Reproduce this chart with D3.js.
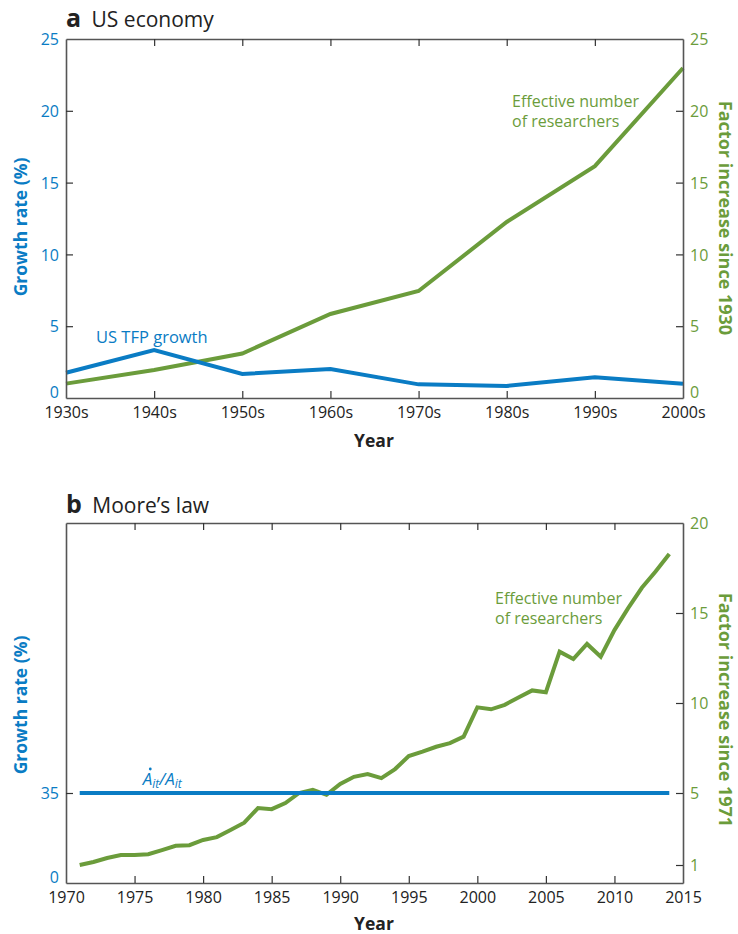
<!DOCTYPE html>
<html>
<head>
<meta charset="utf-8">
<script src="https://cdn.jsdelivr.net/npm/d3@7"></script>
<style>
  body { margin: 0; background: #fff; }
  svg text { font-family: "Open Sans", "Noto Sans", sans-serif; }
</style>
</head>
<body>
<script>
'use strict';

// panel a: US economy, by decade
var decades = ['1930s', '1940s', '1950s', '1960s', '1970s', '1980s', '1990s', '2000s'];
var tfpGrowth = [1.76, 3.34, 1.67, 2.02, 0.95, 0.84, 1.44, 1.0];
var researchersUS = [1.0, 1.95, 3.1, 5.85, 7.45, 12.26, 16.15, 22.98];
var ticksA = [0, 5, 10, 15, 20, 25];

// panel b: Moore's law, yearly 1971-2014
var years = d3.range(1971, 2015);
var researchersMoore = [1.0, 1.17, 1.39, 1.55, 1.55, 1.6, 1.83, 2.07, 2.1, 2.39,
  2.55, 2.94, 3.35, 4.16, 4.1, 4.44, 5.0, 5.17, 4.9, 5.5,
  5.9, 6.05, 5.83, 6.33, 7.05, 7.3, 7.57, 7.77, 8.13, 9.76,
  9.65, 9.9, 10.3, 10.7, 10.6, 12.85, 12.44, 13.28, 12.57, 14.05,
  15.27, 16.4, 17.3, 18.28];
var mooreGrowth = 35; // constant growth of Ait, %
var yearTicks = [1970, 1975, 1980, 1985, 1990, 1995, 2000, 2005, 2010, 2015];
var ticksBLeft = [0, 35];
var ticksBRight = [1, 5, 10, 15, 20];

var blue = '#0a7cc4', green = '#6b9c3b', axisCol = '#555';

var svg = d3.select('body').append('svg')
    .attr('width', 738)
    .attr('height', 934);

var left = 66, right = 683;

function frame(g, x, yL, yR, xTickVals, xTickFmt, lTicks, rTicks, top, bottom) {
    // bottom axis with inward ticks
    var xb = g.append('g').attr('transform', 'translate(0,' + bottom + ')')
        .call(d3.axisBottom(x).tickValues(xTickVals).tickFormat(xTickFmt).tickSizeInner(-7).tickSizeOuter(0).tickPadding(9));
    var xt = g.append('g').attr('transform', 'translate(0,' + top + ')')
        .call(d3.axisTop(x).tickValues(xTickVals).tickFormat('').tickSizeInner(-7).tickSizeOuter(0));
    var yl = g.append('g').attr('transform', 'translate(' + left + ',0)')
        .call(d3.axisLeft(yL).tickValues(lTicks).tickSizeInner(-7).tickSizeOuter(0).tickPadding(7));
    var yr = g.append('g').attr('transform', 'translate(' + right + ',0)')
        .call(d3.axisRight(yR).tickValues(rTicks).tickSizeInner(-7).tickSizeOuter(0).tickPadding(7));

    [xb, xt, yl, yr].forEach(function(a) {
        a.selectAll('.domain').attr('stroke', axisCol).attr('stroke-width', 1.6);
        a.selectAll('.tick line').attr('stroke', '#333').attr('stroke-width', 1.2);
        a.selectAll('text').style('font-size', '16px');
    });
    xb.selectAll('text').attr('fill', '#222');
    yl.selectAll('text').attr('fill', blue)
        .attr('dy', function(d) { return yL(d) === bottom ? '-0.05em' : '0.35em'; });
    yr.selectAll('text').attr('fill', green)
        .attr('dy', function(d) { return yR(d) === bottom ? '-0.05em' : '0.35em'; });
    // hide edge ticks sitting on the frame corners
    xb.selectAll('.tick line').filter(function(d, i) { return i === 0 || i === xTickVals.length - 1; }).remove();
    xt.selectAll('.tick line').filter(function(d, i) { return i === 0 || i === xTickVals.length - 1; }).remove();
    yl.selectAll('.tick line').filter(function(d) { return yL(d) === bottom || yL(d) === top; }).remove();
    yr.selectAll('.tick line').filter(function(d) { return yR(d) === bottom || yR(d) === top; }).remove();
}

function titles(g, letter, name, baseY, top, bottom, rightLabel, yLabelY, rLabelY, yearY) {
    var t = g.append('text').attr('x', 66).attr('y', baseY).attr('fill', '#222');
    t.append('tspan').text(letter).style('font-weight', 'bold').style('font-size', '25px');
    t.append('tspan').text(' ' + name).attr('dx', 5).style('font-size', '21px');

    g.append('text')
        .attr('transform', 'translate(27,' + yLabelY + ') rotate(-90)')
        .attr('text-anchor', 'middle')
        .attr('fill', blue)
        .style('font-weight', 'bold')
        .style('font-size', '17.5px')
        .text('Growth rate (%)');

    g.append('text')
        .attr('transform', 'translate(719,' + rLabelY + ') rotate(90)')
        .attr('text-anchor', 'middle')
        .attr('fill', green)
        .style('font-weight', 'bold')
        .style('font-size', '18px')
        .text(rightLabel);

    g.append('text')
        .attr('x', 374).attr('y', yearY)
        .attr('text-anchor', 'middle')
        .attr('fill', '#222')
        .style('font-weight', 'bold')
        .style('font-size', '17.5px')
        .text('Year');
}

function lineOf(g, xs, ys, scaleX, scaleY, col) {
    var line = d3.line()
        .x(function(d, i) { return scaleX(xs[i]); })
        .y(function(d) { return scaleY(d); });
    g.append('path')
        .datum(ys)
        .attr('d', line)
        .attr('fill', 'none')
        .attr('stroke', col)
        .attr('stroke-width', 4)
        .attr('stroke-linejoin', 'miter');
}

// ---------- panel a ----------
var gA = svg.append('g');
var topA = 39, botA = 398;
var xA = d3.scalePoint().domain(decades).range([left, right]);
var yAL = d3.scaleLinear().domain([0, 25]).range([botA, topA]);
var yAR = d3.scaleLinear().domain([0, 25]).range([botA, topA]);

lineOf(gA, decades, researchersUS, xA, yAR, green);
lineOf(gA, decades, tfpGrowth, xA, yAL, blue);
frame(gA, xA, yAL, yAR, decades, function(d) { return d; }, ticksA, ticksA, topA, botA);
titles(gA, 'a', 'US economy', 27, topA, botA, 'Factor increase since 1930', 227, 218, 447);

gA.append('text').attr('x', 96).attr('y', 343).attr('fill', blue)
    .style('font-size', '16.5px').text('US TFP growth');
var labA = gA.append('text').attr('x', 512).attr('y', 107).attr('fill', green).style('font-size', '16px');
labA.append('tspan').text('Effective number');
labA.append('tspan').attr('x', 512).attr('dy', 20).text('of researchers');

// ---------- panel b ----------
var gB = svg.append('g');
var topB = 523, botB = 883;
var xB = d3.scaleLinear().domain([1970, 2015]).range([left, right]);
var yBL = d3.scaleLinear().domain([0, 140]).range([botB, topB]);
var yBR = d3.scaleLinear().domain([0, 20]).range([botB, topB]);

lineOf(gB, years, researchersMoore, xB, yBR, green);
lineOf(gB, [years[0], years[years.length - 1]], [mooreGrowth, mooreGrowth], xB, yBL, blue);
frame(gB, xB, yBL, yBR, yearTicks, d3.format('d'), ticksBLeft, ticksBRight, topB, botB);
titles(gB, 'b', 'Moore\u2019s law', 513, topB, botB, 'Factor increase since 1971', 705, 710, 930);

var labB = gB.append('text').attr('x', 495).attr('y', 604).attr('fill', green).style('font-size', '16px');
labB.append('tspan').text('Effective number');
labB.append('tspan').attr('x', 495).attr('dy', 20).text('of researchers');

// A-dot_it / A_it label
var ax = xB(1975.6), ay = yBL(mooreGrowth) - 8;
var ait = gB.append('text').attr('x', ax).attr('y', ay).attr('fill', blue)
    .style('font-size', '17px').style('font-style', 'italic');
ait.append('tspan').text('A');
ait.append('tspan').text('it').attr('dy', 3).style('font-size', '12px');
ait.append('tspan').text('/A').attr('dy', -3);
ait.append('tspan').text('it').attr('dy', 3).style('font-size', '12px');
gB.append('circle').attr('cx', ax + 7.5).attr('cy', ay - 16).attr('r', 1.4).attr('fill', blue);
</script>
</body>
</html>
